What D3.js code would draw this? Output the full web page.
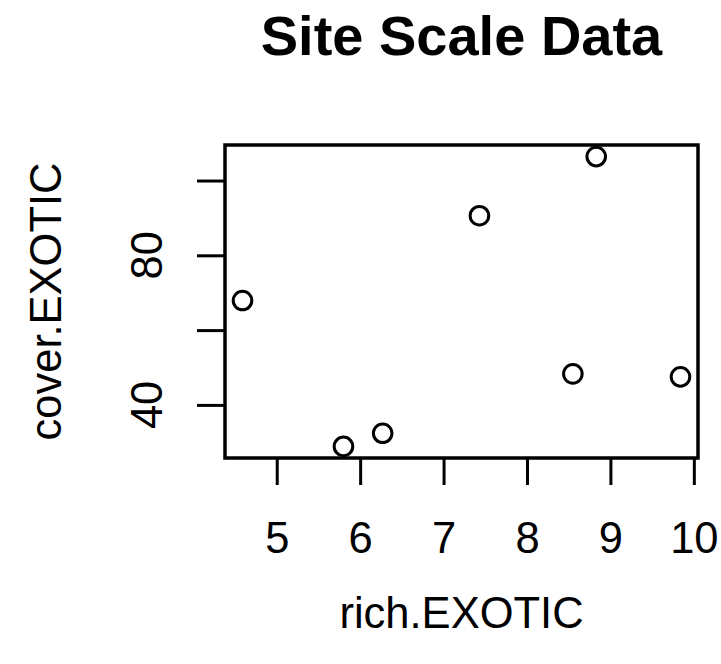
<!DOCTYPE html>
<html>
<head>
<meta charset="utf-8">
<script src="https://cdn.jsdelivr.net/npm/d3@7"></script>
<style>
  body { margin: 0; background: #fff; }
  text { font-family: "Liberation Sans", Arial, sans-serif; fill: #000; }
</style>
</head>
<body>
<svg id="viz" width="721" height="664"></svg>
<script>
const width = 721;
const height = 664;
const svg = d3.select("#viz");

// data
const richExotic  = [4.59, 5.80, 6.27, 7.43, 8.83, 8.55, 9.84];
const coverExotic = [67.9, 28.9, 32.4, 90.6, 106.4, 48.3, 47.5];
const xTicks = [5, 6, 7, 8, 9, 10];
const yTicks = [40, 60, 80, 100];
const yTickLabels = [40, 80];

const points = richExotic.map((x, i) => ({ x, y: coverExotic[i] }));

// plot area
const plotLeft = 225, plotRight = 698, plotTop = 145, plotBottom = 458;

// R-style 4% padding on the data range
const pad = ([a, b]) => [a - (b - a) * 0.04, b + (b - a) * 0.04];
const x = d3.scaleLinear().domain(pad(d3.extent(richExotic))).range([plotLeft, plotRight]);
const y = d3.scaleLinear().domain(pad(d3.extent(coverExotic))).range([plotBottom, plotTop]);

// x axis
const xAxis = svg.append("g")
    .attr("transform", `translate(0,${plotBottom})`)
    .call(d3.axisBottom(x).tickValues(xTicks).tickSize(27).tickPadding(37).tickFormat(d3.format("d")));
xAxis.select(".domain").remove();
xAxis.selectAll("line").attr("stroke", "#000").attr("stroke-width", 3);
xAxis.selectAll("text").style("font-size", "43.5px");

// y axis (ticks only, labels are drawn rotated)
const yAxis = svg.append("g")
    .attr("transform", `translate(${plotLeft},0)`)
    .call(d3.axisLeft(y).tickValues(yTicks).tickSize(28).tickFormat(""));
yAxis.select(".domain").remove();
yAxis.selectAll("line").attr("stroke", "#000").attr("stroke-width", 3);

svg.selectAll(".ylab")
    .data(yTickLabels)
    .enter().append("text")
    .attr("class", "ylab")
    .attr("transform", d => `translate(162,${y(d)}) rotate(-90)`)
    .attr("text-anchor", "middle")
    .style("font-size", "43.5px")
    .text(d => d);

// box
svg.append("rect")
    .attr("x", plotLeft).attr("y", plotTop)
    .attr("width", plotRight - plotLeft).attr("height", plotBottom - plotTop)
    .attr("fill", "none")
    .attr("stroke", "#000")
    .attr("stroke-width", 3.5);

// points
svg.selectAll(".pt")
    .data(points)
    .enter().append("circle")
    .attr("class", "pt")
    .attr("cx", d => x(d.x))
    .attr("cy", d => y(d.y))
    .attr("r", 9.3)
    .attr("fill", "none")
    .attr("stroke", "#000")
    .attr("stroke-width", 3);

// titles
svg.append("text")
    .attr("x", (plotLeft + plotRight) / 2).attr("y", 55)
    .attr("text-anchor", "middle")
    .style("font-size", "56px").style("font-weight", "bold")
    .text("Site Scale Data");

svg.append("text")
    .attr("x", (plotLeft + plotRight) / 2).attr("y", 628)
    .attr("text-anchor", "middle")
    .style("font-size", "43.5px")
    .text("rich.EXOTIC");

svg.append("text")
    .attr("transform", `translate(61,${(plotTop + plotBottom) / 2}) rotate(-90)`)
    .attr("text-anchor", "middle")
    .style("font-size", "43.5px")
    .text("cover.EXOTIC");
</script>
</body>
</html>
